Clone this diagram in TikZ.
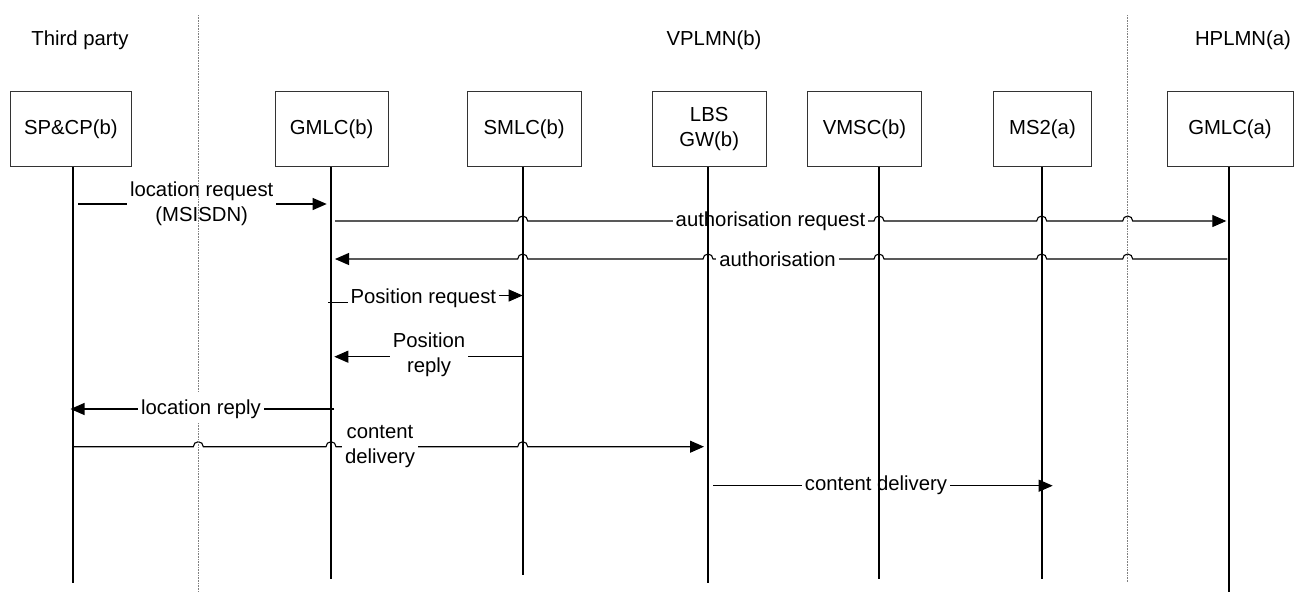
\documentclass[tikz,border=0pt]{standalone}
\usepackage{fontspec}
\setmainfont{Liberation Sans}
\usetikzlibrary{arrows.meta}
\begin{document}
\begin{tikzpicture}[x=1pt,y=-1pt,
  every node/.style={font=\fontsize{20.3}{25}\selectfont},
  box/.style={draw=black!80, line width=0.9pt, minimum height=75pt, inner sep=0pt, align=center},
  life/.style={line width=1.7pt, black},
  sep/.style={line width=0.8pt, black!50, dash pattern=on 0.8pt off 0.8pt},
  msg/.style={line width=1.1pt, black},
  arr/.style={msg, -{Triangle[length=14pt,width=12pt]}},
  lbl/.style={fill=white, inner xsep=3pt, inner ysep=1pt, align=center},
  hdr/.style={anchor=base}]

\useasboundingbox (0,0) rectangle (1295,592);

% headers
\node[hdr] (tp) at (80,45) {Third party};
\node[hdr] (vp) at (714,45.5) {VPLMN(b)};
\node[hdr] (hp) at (1243,45.5) {HPLMN(a)};

% boxes
\node[box, minimum width=121.7pt] (sp) at (70.85,129.2) {SP\&CP(b)};
\node[box, minimum width=113.3pt] (gb) at (331.65,129.2) {GMLC(b)};
\node[box, minimum width=113.7pt] (sm) at (524.15,129.2) {SMLC(b)};
\node[box, minimum width=113.7pt] (lb) at (709.15,129.2) {LBS\\GW(b)};
\node[box, minimum width=114.3pt] (vm) at (864.5,129.2) {VMSC(b)};
\node[box, minimum width=98.3pt] (ms) at (1042.5,129.2) {MS2(a)};
\node[box, minimum width=126pt] (ga) at (1230,129.2) {GMLC(a)};

% lifeline ends
\coordinate (spE) at (73.3,582.7);
\coordinate (gbE) at (331,579);
\coordinate (smE) at (522.7,575);
\coordinate (lbE) at (708,582.7);
\coordinate (vmE) at (879,579);
\coordinate (msE) at (1041.7,579);
\coordinate (gaE) at (1229.3,592);

% 1 location request
\draw[arr, shorten <=4.7pt, shorten >=4.3pt] (spE |- 0,204) -- (gbE |- 0,204);
\node[lbl] (l1) at (201.7,204) {location request\\(MSISDN)};

% 2 authorisation request
\draw[arr, shorten <=4pt, shorten >=3pt] (gbE |- 0,221) -- (517.7,221)
  arc[start angle=180,end angle=360,radius=5] -- (874,221)
  arc[start angle=180,end angle=360,radius=5] -- (1036.7,221)
  arc[start angle=180,end angle=360,radius=5] -- (1122.7,221)
  arc[start angle=180,end angle=360,radius=5] -- (gaE |- 0,221);
\node[lbl] (l2) at (770.5,221) {authorisation request};

% 3 authorisation
\draw[arr, shorten <=2pt, shorten >=4pt] (gaE |- 0,259) -- (1132.7,259)
  arc[start angle=0,end angle=-180,radius=5] -- (1046.7,259)
  arc[start angle=0,end angle=-180,radius=5] -- (884,259)
  arc[start angle=0,end angle=-180,radius=5] -- (713,259)
  arc[start angle=0,end angle=-180,radius=5] -- (527.7,259)
  arc[start angle=0,end angle=-180,radius=5] -- (gbE |- 0,259);
\node[lbl] (l3) at (777.5,259) {authorisation};

% 4 Position request
\draw[msg] (gbE |- 0,302.5) ++(-3,0) -- (360,302.5);
\draw[arr] (480,295.5) -- (smE |- 0,295.5);
\node[lbl] (l4) at (423.3,298) {Position request};

% 5 Position reply
\draw[arr, shorten >=3.3pt] (smE |- 0,356.7) -- (gbE |- 0,356.7);
\node[lbl] (l5) at (429,354.5) {Position\\reply};

% 6 location reply
\draw[arr, shorten <=-3pt, shorten >=-2.8pt] (gbE |- 0,409) -- (spE |- 0,409);
\node[lbl] (l6) at (201,409) {location reply};

% 7 content delivery
\draw[arr, shorten >=4pt] (spE |- 0,446.7) -- (193.3,446.7)
  arc[start angle=180,end angle=360,radius=5] -- (326,446.7)
  arc[start angle=180,end angle=360,radius=5] -- (517.7,446.7)
  arc[start angle=180,end angle=360,radius=5] -- (lbE |- 0,446.7);
\node[lbl] (l7) at (380,447) {content\\delivery};

% 8 content delivery
\draw[arr, shorten <=5pt, shorten >=-11pt] (lbE |- 0,485.7) -- (msE |- 0,485.7);
\node[lbl] (l8) at (876,485.7) {content delivery};

% lifelines
\draw[life] (sp.south -| spE) -- (spE);
\draw[life] (gb.south -| gbE) -- (gbE);
\draw[life] (sm.south -| smE) -- (smE);
\draw[life] (lb.south -| lbE) -- (lbE);
\draw[life] (vm.south -| vmE) -- (vmE);
\draw[life] (ms.south -| msE) -- (msE);
\draw[life] (ga.south -| gaE) -- (gaE);

% domain separators
\draw[sep] (198.3,15) -- (198.3,392) (198.3,423) -- (198.3,592);
\draw[sep] (1127.7,15) -- (1127.7,582.7);
\end{tikzpicture}
\end{document}
